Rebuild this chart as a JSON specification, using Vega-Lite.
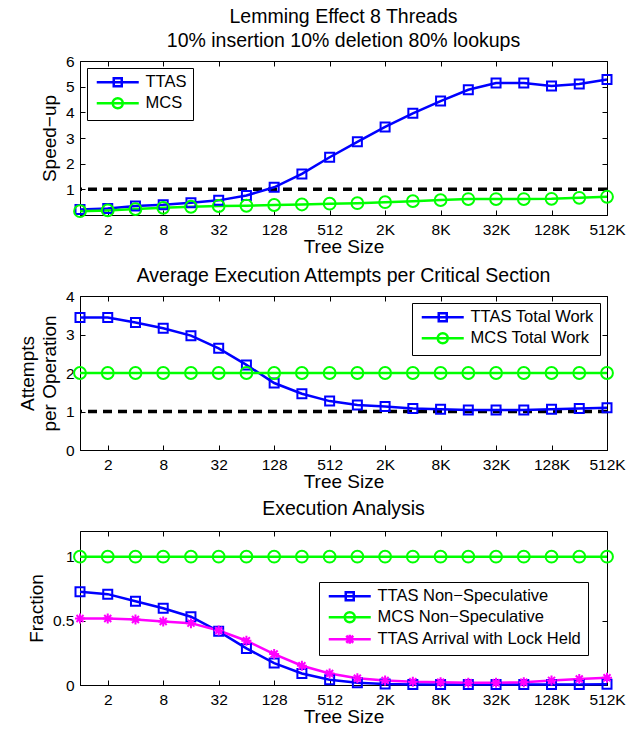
{
  "$schema": "https://vega.github.io/schema/vega-lite/v6.json",
  "padding": {"left": 17, "top": 6, "right": 5, "bottom": 5},
  "background": "white",
  "config": {
    "font": "Liberation Sans",
    "view": {"stroke": "black", "strokeWidth": 1},
    "axis": {"grid": false, "domainColor": "black", "domainWidth": 1, "tickColor": "black", "tickSize": -5, "tickWidth": 1, "labelColor": "black", "labelFontSize": 15.5, "titleColor": "black", "titleFontSize": 19, "titleFontWeight": "normal", "labelFlush": false, "labelOverlap": false},
    "axisX": {"labelPadding": 12, "titlePadding": 0},
    "axisY": {"labelPadding": 11, "titlePadding": 6, "titleLineHeight": 22},
    "title": {"fontSize": 19.5, "fontWeight": "normal", "color": "black", "lineHeight": 24, "offset": 3},
    "legend": {"labelFontSize": 16.5, "labelColor": "black", "strokeColor": "black", "fillColor": "white", "padding": 6, "symbolSize": 100, "symbolStrokeWidth": 2.5, "labelOffset": 36, "rowPadding": 1, "labelLimit": 400}
  },
  "datasets": {
    "p1": [
      {"size":1,"series":"TTAS","value":0.21},{"size":2,"series":"TTAS","value":0.25},{"size":4,"series":"TTAS","value":0.35},{"size":8,"series":"TTAS","value":0.40},{"size":16,"series":"TTAS","value":0.48},{"size":32,"series":"TTAS","value":0.57},{"size":64,"series":"TTAS","value":0.76},{"size":128,"series":"TTAS","value":1.08},{"size":256,"series":"TTAS","value":1.60},{"size":512,"series":"TTAS","value":2.25},{"size":1024,"series":"TTAS","value":2.85},{"size":2048,"series":"TTAS","value":3.43},{"size":4096,"series":"TTAS","value":3.96},{"size":8192,"series":"TTAS","value":4.44},{"size":16384,"series":"TTAS","value":4.88},{"size":32768,"series":"TTAS","value":5.14},{"size":65536,"series":"TTAS","value":5.14},{"size":131072,"series":"TTAS","value":5.03},{"size":262144,"series":"TTAS","value":5.10},{"size":524288,"series":"TTAS","value":5.28},
      {"size":1,"series":"MCS","value":0.15},{"size":2,"series":"MCS","value":0.18},{"size":4,"series":"MCS","value":0.23},{"size":8,"series":"MCS","value":0.28},{"size":16,"series":"MCS","value":0.32},{"size":32,"series":"MCS","value":0.35},{"size":64,"series":"MCS","value":0.36},{"size":128,"series":"MCS","value":0.39},{"size":256,"series":"MCS","value":0.41},{"size":512,"series":"MCS","value":0.44},{"size":1024,"series":"MCS","value":0.46},{"size":2048,"series":"MCS","value":0.50},{"size":4096,"series":"MCS","value":0.54},{"size":8192,"series":"MCS","value":0.58},{"size":16384,"series":"MCS","value":0.62},{"size":32768,"series":"MCS","value":0.62},{"size":65536,"series":"MCS","value":0.62},{"size":131072,"series":"MCS","value":0.63},{"size":262144,"series":"MCS","value":0.67},{"size":524288,"series":"MCS","value":0.71}
    ],
    "p2": [
      {"size":1,"series":"TTAS Total Work","value":3.44},{"size":2,"series":"TTAS Total Work","value":3.44},{"size":4,"series":"TTAS Total Work","value":3.31},{"size":8,"series":"TTAS Total Work","value":3.16},{"size":16,"series":"TTAS Total Work","value":2.97},{"size":32,"series":"TTAS Total Work","value":2.64},{"size":64,"series":"TTAS Total Work","value":2.21},{"size":128,"series":"TTAS Total Work","value":1.74},{"size":256,"series":"TTAS Total Work","value":1.46},{"size":512,"series":"TTAS Total Work","value":1.27},{"size":1024,"series":"TTAS Total Work","value":1.17},{"size":2048,"series":"TTAS Total Work","value":1.13},{"size":4096,"series":"TTAS Total Work","value":1.08},{"size":8192,"series":"TTAS Total Work","value":1.06},{"size":16384,"series":"TTAS Total Work","value":1.04},{"size":32768,"series":"TTAS Total Work","value":1.04},{"size":65536,"series":"TTAS Total Work","value":1.04},{"size":131072,"series":"TTAS Total Work","value":1.06},{"size":262144,"series":"TTAS Total Work","value":1.08},{"size":524288,"series":"TTAS Total Work","value":1.10},
      {"size":1,"series":"MCS Total Work","value":2},{"size":2,"series":"MCS Total Work","value":2},{"size":4,"series":"MCS Total Work","value":2},{"size":8,"series":"MCS Total Work","value":2},{"size":16,"series":"MCS Total Work","value":2},{"size":32,"series":"MCS Total Work","value":2},{"size":64,"series":"MCS Total Work","value":2},{"size":128,"series":"MCS Total Work","value":2},{"size":256,"series":"MCS Total Work","value":2},{"size":512,"series":"MCS Total Work","value":2},{"size":1024,"series":"MCS Total Work","value":2},{"size":2048,"series":"MCS Total Work","value":2},{"size":4096,"series":"MCS Total Work","value":2},{"size":8192,"series":"MCS Total Work","value":2},{"size":16384,"series":"MCS Total Work","value":2},{"size":32768,"series":"MCS Total Work","value":2},{"size":65536,"series":"MCS Total Work","value":2},{"size":131072,"series":"MCS Total Work","value":2},{"size":262144,"series":"MCS Total Work","value":2},{"size":524288,"series":"MCS Total Work","value":2}
    ],
    "p3": [
      {"size":1,"series":"TTAS Non\u2212Speculative","value":0.727},{"size":2,"series":"TTAS Non\u2212Speculative","value":0.708},{"size":4,"series":"TTAS Non\u2212Speculative","value":0.652},{"size":8,"series":"TTAS Non\u2212Speculative","value":0.598},{"size":16,"series":"TTAS Non\u2212Speculative","value":0.532},{"size":32,"series":"TTAS Non\u2212Speculative","value":0.418},{"size":64,"series":"TTAS Non\u2212Speculative","value":0.285},{"size":128,"series":"TTAS Non\u2212Speculative","value":0.171},{"size":256,"series":"TTAS Non\u2212Speculative","value":0.09},{"size":512,"series":"TTAS Non\u2212Speculative","value":0.041},{"size":1024,"series":"TTAS Non\u2212Speculative","value":0.018},{"size":2048,"series":"TTAS Non\u2212Speculative","value":0.008},{"size":4096,"series":"TTAS Non\u2212Speculative","value":0.004},{"size":8192,"series":"TTAS Non\u2212Speculative","value":0.003},{"size":16384,"series":"TTAS Non\u2212Speculative","value":0.003},{"size":32768,"series":"TTAS Non\u2212Speculative","value":0.003},{"size":65536,"series":"TTAS Non\u2212Speculative","value":0.003},{"size":131072,"series":"TTAS Non\u2212Speculative","value":0.004},{"size":262144,"series":"TTAS Non\u2212Speculative","value":0.004},{"size":524288,"series":"TTAS Non\u2212Speculative","value":0.005},
      {"size":1,"series":"MCS Non\u2212Speculative","value":1},{"size":2,"series":"MCS Non\u2212Speculative","value":1},{"size":4,"series":"MCS Non\u2212Speculative","value":1},{"size":8,"series":"MCS Non\u2212Speculative","value":1},{"size":16,"series":"MCS Non\u2212Speculative","value":1},{"size":32,"series":"MCS Non\u2212Speculative","value":1},{"size":64,"series":"MCS Non\u2212Speculative","value":1},{"size":128,"series":"MCS Non\u2212Speculative","value":1},{"size":256,"series":"MCS Non\u2212Speculative","value":1},{"size":512,"series":"MCS Non\u2212Speculative","value":1},{"size":1024,"series":"MCS Non\u2212Speculative","value":1},{"size":2048,"series":"MCS Non\u2212Speculative","value":1},{"size":4096,"series":"MCS Non\u2212Speculative","value":1},{"size":8192,"series":"MCS Non\u2212Speculative","value":1},{"size":16384,"series":"MCS Non\u2212Speculative","value":1},{"size":32768,"series":"MCS Non\u2212Speculative","value":1},{"size":65536,"series":"MCS Non\u2212Speculative","value":1},{"size":131072,"series":"MCS Non\u2212Speculative","value":1},{"size":262144,"series":"MCS Non\u2212Speculative","value":1},{"size":524288,"series":"MCS Non\u2212Speculative","value":1},
      {"size":1,"series":"TTAS Arrival with Lock Held","value":0.518},{"size":2,"series":"TTAS Arrival with Lock Held","value":0.518},{"size":4,"series":"TTAS Arrival with Lock Held","value":0.51},{"size":8,"series":"TTAS Arrival with Lock Held","value":0.495},{"size":16,"series":"TTAS Arrival with Lock Held","value":0.482},{"size":32,"series":"TTAS Arrival with Lock Held","value":0.425},{"size":64,"series":"TTAS Arrival with Lock Held","value":0.345},{"size":128,"series":"TTAS Arrival with Lock Held","value":0.241},{"size":256,"series":"TTAS Arrival with Lock Held","value":0.15},{"size":512,"series":"TTAS Arrival with Lock Held","value":0.09},{"size":1024,"series":"TTAS Arrival with Lock Held","value":0.052},{"size":2048,"series":"TTAS Arrival with Lock Held","value":0.036},{"size":4096,"series":"TTAS Arrival with Lock Held","value":0.026},{"size":8192,"series":"TTAS Arrival with Lock Held","value":0.021},{"size":16384,"series":"TTAS Arrival with Lock Held","value":0.018},{"size":32768,"series":"TTAS Arrival with Lock Held","value":0.018},{"size":65536,"series":"TTAS Arrival with Lock Held","value":0.021},{"size":131072,"series":"TTAS Arrival with Lock Held","value":0.036},{"size":262144,"series":"TTAS Arrival with Lock Held","value":0.047},{"size":524288,"series":"TTAS Arrival with Lock Held","value":0.057}
    ]
  },
  "spacing": 81,
  "bounds": "flush",
  "resolve": {"scale": {"x": "independent", "y": "independent", "color": "independent"}, "legend": {"color": "independent"}},
  "vconcat": [
    {
      "width": 527, "height": 154,
      "title": {"text": ["Lemming Effect 8 Threads", "10% insertion 10% deletion 80% lookups"]},
      "data": {"name": "p1"},
      "resolve": {"axis": {"x": "independent", "y": "independent"}},
      "layer": [
        {"data": {"values": [{"ref": 1}]}, "mark": {"type": "rule", "color": "black", "strokeWidth": 3.5, "strokeDash": [9, 6]}, "encoding": {"y": {"field": "ref", "type": "quantitative", "axis": null}}},
        {"mark": {"type": "line", "strokeWidth": 2.5},
         "encoding": {
           "x": {"field": "size", "type": "quantitative", "scale": {"type": "log", "base": 2, "domain": [1, 524288], "nice": false}, "axis": {"title": "Tree Size", "values": [2, 8, 32, 128, 512, 2048, 8192, 32768, 131072, 524288], "labelExpr": "datum.value >= 1024 ? (datum.value / 1024) + 'K' : datum.value"}},
           "y": {"field": "value", "type": "quantitative", "scale": {"domain": [0, 6], "nice": false}, "axis": {"title": "Speed\u2212up", "values": [1, 2, 3, 4, 5, 6]}},
           "color": {"field": "series", "type": "nominal", "scale": {"domain": ["TTAS", "MCS"], "range": ["#0000ff", "#00ff00"]},
             "legend": {"title": null, "orient": "top-left", "offset": 7,
               "encode": {"symbols": {"update": {"shape": {"signal": "datum.value === 'TTAS' ? 'M-0.9,0H7.5M2.5,-0.8H4.1V0.8H2.5Z' : 'M-0.9,0H7.5M4.3,0A1,1,0,1,1,2.3,0A1,1,0,1,1,4.3,0'"}, "fill": {"value": "transparent"}, "strokeWidth": {"value": 2.5}}}}}}
         }},
        {"transform": [{"filter": "datum.series === 'TTAS'"}],
         "mark": {"type": "point", "shape": "square", "size": 81, "filled": false, "color": "#0000ff", "strokeWidth": 2, "opacity": 1},
         "encoding": {
           "x": {"field": "size", "type": "quantitative", "axis": {"orient": "top", "labels": false, "title": null, "domain": false, "values": [2, 8, 32, 128, 512, 2048, 8192, 32768, 131072, 524288]}},
           "y": {"field": "value", "type": "quantitative", "axis": {"orient": "right", "labels": false, "title": null, "domain": false, "values": [1, 2, 3, 4, 5, 6]}}
         }},
        {"transform": [{"filter": "datum.series === 'MCS'"}],
         "mark": {"type": "point", "shape": "circle", "size": 140, "filled": false, "color": "#00ff00", "strokeWidth": 2, "opacity": 1},
         "encoding": {
           "x": {"field": "size", "type": "quantitative", "axis": null},
           "y": {"field": "value", "type": "quantitative", "axis": null}
         }}
      ]
    },
    {
      "width": 527, "height": 154,
      "title": {"text": "Average Execution Attempts per Critical Section"},
      "data": {"name": "p2"},
      "resolve": {"axis": {"x": "independent", "y": "independent"}},
      "layer": [
        {"data": {"values": [{"ref": 1}]}, "mark": {"type": "rule", "color": "black", "strokeWidth": 3.5, "strokeDash": [9, 6]}, "encoding": {"y": {"field": "ref", "type": "quantitative", "axis": null}}},
        {"mark": {"type": "line", "strokeWidth": 2.5},
         "encoding": {
           "x": {"field": "size", "type": "quantitative", "scale": {"type": "log", "base": 2, "domain": [1, 524288], "nice": false}, "axis": {"title": "Tree Size", "values": [2, 8, 32, 128, 512, 2048, 8192, 32768, 131072, 524288], "labelExpr": "datum.value >= 1024 ? (datum.value / 1024) + 'K' : datum.value"}},
           "y": {"field": "value", "type": "quantitative", "scale": {"domain": [0, 4], "nice": false}, "axis": {"title": ["Attempts", "per Operation"], "values": [0, 1, 2, 3, 4]}},
           "color": {"field": "series", "type": "nominal", "scale": {"domain": ["TTAS Total Work", "MCS Total Work"], "range": ["#0000ff", "#00ff00"]},
             "legend": {"title": null, "orient": "top-right", "offset": 7,
               "encode": {"symbols": {"update": {"shape": {"signal": "datum.value === 'TTAS Total Work' ? 'M-0.9,0H7.5M2.5,-0.8H4.1V0.8H2.5Z' : 'M-0.9,0H7.5M4.3,0A1,1,0,1,1,2.3,0A1,1,0,1,1,4.3,0'"}, "fill": {"value": "transparent"}, "strokeWidth": {"value": 2.5}}}}}}
         }},
        {"transform": [{"filter": "datum.series === 'TTAS Total Work'"}],
         "mark": {"type": "point", "shape": "square", "size": 81, "filled": false, "color": "#0000ff", "strokeWidth": 2, "opacity": 1},
         "encoding": {
           "x": {"field": "size", "type": "quantitative", "axis": {"orient": "top", "labels": false, "title": null, "domain": false, "values": [2, 8, 32, 128, 512, 2048, 8192, 32768, 131072, 524288]}},
           "y": {"field": "value", "type": "quantitative", "axis": {"orient": "right", "labels": false, "title": null, "domain": false, "values": [0, 1, 2, 3, 4]}}
         }},
        {"transform": [{"filter": "datum.series === 'MCS Total Work'"}],
         "mark": {"type": "point", "shape": "circle", "size": 140, "filled": false, "color": "#00ff00", "strokeWidth": 2, "opacity": 1},
         "encoding": {
           "x": {"field": "size", "type": "quantitative", "axis": null},
           "y": {"field": "value", "type": "quantitative", "axis": null}
         }}
      ]
    },
    {
      "width": 527, "height": 154,
      "title": {"text": "Execution Analysis", "offset": 11},
      "data": {"name": "p3"},
      "resolve": {"axis": {"x": "independent", "y": "independent"}},
      "layer": [
        {"mark": {"type": "line", "strokeWidth": 2.5},
         "encoding": {
           "x": {"field": "size", "type": "quantitative", "scale": {"type": "log", "base": 2, "domain": [1, 524288], "nice": false}, "axis": {"title": "Tree Size", "values": [2, 8, 32, 128, 512, 2048, 8192, 32768, 131072, 524288], "labelExpr": "datum.value >= 1024 ? (datum.value / 1024) + 'K' : datum.value"}},
           "y": {"field": "value", "type": "quantitative", "scale": {"domain": [0, 1.2], "nice": false}, "axis": {"title": "Fraction", "values": [0, 0.5, 1], "format": "~g"}},
           "color": {"field": "series", "type": "nominal", "scale": {"domain": ["TTAS Non\u2212Speculative", "MCS Non\u2212Speculative", "TTAS Arrival with Lock Held"], "range": ["#0000ff", "#00ff00", "#ff00ff"]},
             "legend": {"title": null, "orient": "none", "legendX": 239, "legendY": 51,
               "encode": {"symbols": {"update": {"shape": {"signal": "datum.value === 'TTAS Non\u2212Speculative' ? 'M-0.9,0H7.5M2.5,-0.8H4.1V0.8H2.5Z' : (datum.value === 'MCS Non\u2212Speculative' ? 'M-0.9,0H7.5M4.3,0A1,1,0,1,1,2.3,0A1,1,0,1,1,4.3,0' : 'M-0.9,0H7.5M3.3,-0.9V0.9M2.6,-0.7L4,0.7M2.6,0.7L4,-0.7')"}, "fill": {"value": "transparent"}, "strokeWidth": {"value": 2.5}}}}}}
         }},
        {"transform": [{"filter": "datum.series === 'TTAS Non\u2212Speculative'"}],
         "mark": {"type": "point", "shape": "square", "size": 81, "filled": false, "color": "#0000ff", "strokeWidth": 2, "opacity": 1},
         "encoding": {
           "x": {"field": "size", "type": "quantitative", "axis": {"orient": "top", "labels": false, "title": null, "domain": false, "values": [2, 8, 32, 128, 512, 2048, 8192, 32768, 131072, 524288]}},
           "y": {"field": "value", "type": "quantitative", "axis": {"orient": "right", "labels": false, "title": null, "domain": false, "values": [0, 0.5, 1]}}
         }},
        {"transform": [{"filter": "datum.series === 'MCS Non\u2212Speculative'"}],
         "mark": {"type": "point", "shape": "circle", "size": 140, "filled": false, "color": "#00ff00", "strokeWidth": 2, "opacity": 1},
         "encoding": {
           "x": {"field": "size", "type": "quantitative", "axis": null},
           "y": {"field": "value", "type": "quantitative", "axis": null}
         }},
        {"transform": [{"filter": "datum.series === 'TTAS Arrival with Lock Held'"}],
         "mark": {"type": "point", "shape": "M-1,0H1M0,-1V1M-0.7,-0.7L0.7,0.7M-0.7,0.7L0.7,-0.7", "size": 100, "filled": false, "color": "#ff00ff", "strokeWidth": 2, "opacity": 1},
         "encoding": {
           "x": {"field": "size", "type": "quantitative", "axis": null},
           "y": {"field": "value", "type": "quantitative", "axis": null}
         }}
      ]
    }
  ]
}
